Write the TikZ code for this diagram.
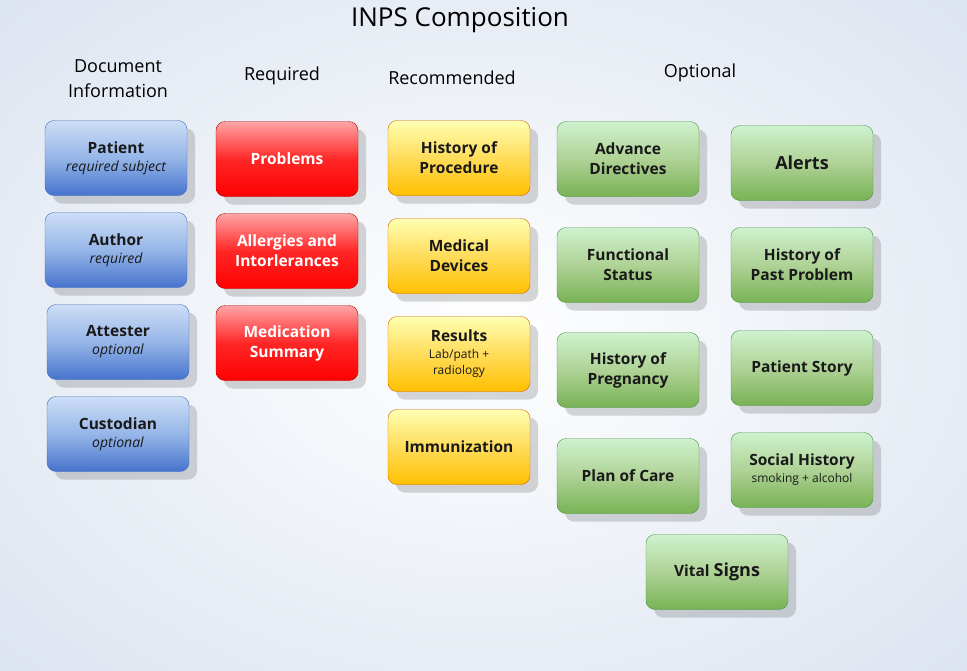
\documentclass[tikz,border=0pt]{standalone}
\usepackage{fontspec}
\setmainfont{Open Sans}
\usetikzlibrary{shadows,calc}
\definecolor{bgc}{HTML}{DCE4F0}
\newcommand\subt{\fontsize{14}{18}\selectfont\itshape\mdseries}
\newcommand\smt{\fontsize{12}{15}\selectfont\mdseries}
\tikzset{
 box/.style={rounded corners=9pt, minimum width=142pt, minimum height=75pt, align=center, text=black!90,
   font=\fontsize{15.5}{20}\selectfont\bfseries,
   drop shadow={shadow xshift=8pt,shadow yshift=-8pt,opacity=0.22,fill=black!70}},
 bluebox/.style={box, draw={rgb,255:red,70;green,110;blue,190}, top color={rgb,255:red,205;green,222;blue,246}, bottom color={rgb,255:red,70;green,115;blue,205}, middle color={rgb,255:red,150;green,182;blue,232}},
 redbox/.style={box, draw=red!70!black, top color=red!35!white, bottom color=red, middle color=red!85!white, text=white},
 yelbox/.style={box, draw=orange!80!black, top color=yellow!30!white, bottom color={rgb,255:red,255;green,192;blue,0}, middle color={rgb,255:red,255;green,220;blue,90}},
 grnbox/.style={box, draw=green!40!black!70, top color=green!15!white!95!black, bottom color={rgb,255:red,120;green,178;blue,85}, middle color={rgb,255:red,175;green,210;blue,150}},
 hdr/.style={font=\fontsize{18}{25}\selectfont, align=center, text=black}
}
\begin{document}
\begin{tikzpicture}[x=1pt,y=-1pt]
\useasboundingbox (0,0) rectangle (967,670);
\shade[inner color=white, outer color=bgc] (-200,-150) rectangle (1167,820);
\node[hdr, font=\fontsize{26}{30}\selectfont] (title) at (460,20) {INPS Composition};
\node[hdr] (h1) at (118,79) {Document\\Information};
\node[hdr] (h2) at (282,76) {Required};
\node[hdr] (h3) at (452,78) {Recommended};
\node[hdr] (h4) at (700,73) {Optional};

\node[bluebox] (patient) at (116,158) {Patient\\[-2pt]{\subt required subject}};
\node[bluebox] (author) at (116,250) {Author\\[-2pt]{\subt required}};
\node[bluebox] (attester) at (118,342) {Attester\\[-2pt]{\subt optional}};
\node[bluebox] (custodian) at (118,434) {Custodian\\[-2pt]{\subt optional}};

\node[redbox] (problems) at (287,159) {Problems};
\node[redbox] (allergies) at (287,251) {Allergies and\\Intorlerances};
\node[redbox] (medication) at (287,343) {Medication\\Summary};

\node[yelbox] (proc) at (459,158) {History of\\Procedure};
\node[yelbox] (devices) at (459,256) {Medical\\Devices};
\node[yelbox] (results) at (459,354) {Results\\[-3pt]{\smt Lab/path +}\\[-4pt]{\smt radiology}};
\node[yelbox] (immun) at (459,447) {Immunization};

\node[grnbox] (advance) at (628,159) {Advance\\Directives};
\node[grnbox] (functional) at (628,265) {Functional\\Status};
\node[grnbox] (pregnancy) at (628,370) {History of\\Pregnancy};
\node[grnbox] (plan) at (628,476) {Plan of Care};

\node[grnbox, font=\fontsize{18}{22}\selectfont\bfseries] (alerts) at (802,163) {Alerts};
\node[grnbox] (past) at (802,265) {History of\\Past Problem};
\node[grnbox] (story) at (802,368) {Patient Story};
\node[grnbox] (social) at (802,470) {Social History\\[-3pt]{\smt smoking + alcohol}};

\node[grnbox] (vital) at (717,572) {Vital {\fontsize{18}{22}\selectfont Signs}};
\end{tikzpicture}
\end{document}
